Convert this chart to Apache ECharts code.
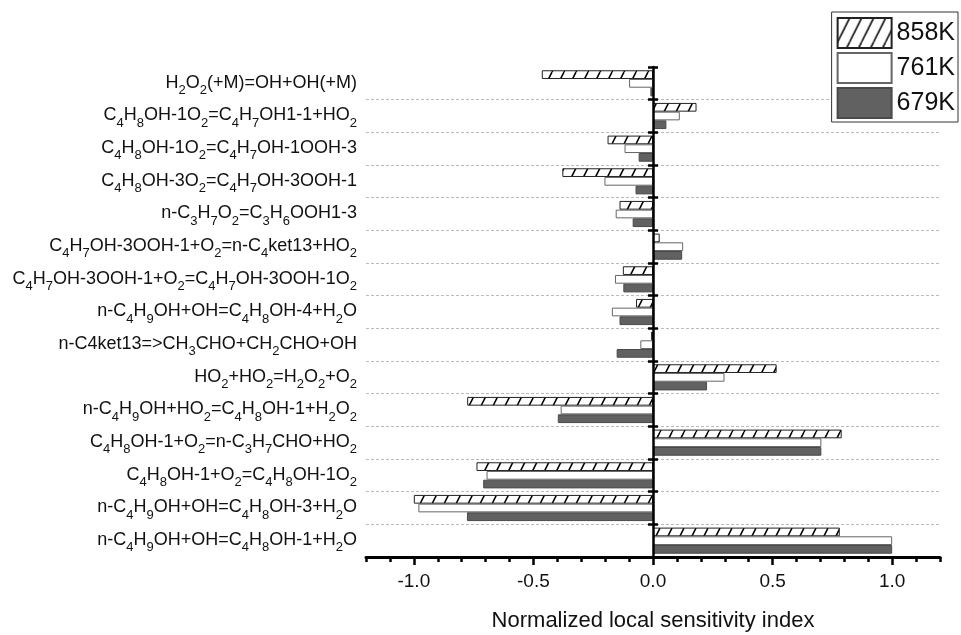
<!DOCTYPE html>
<html>
<head>
<meta charset="utf-8">
<script src="https://cdn.jsdelivr.net/npm/echarts@6/dist/echarts.min.js"></script>
<style>
  html, body { margin: 0; padding: 0; background: #fff; }
  #chart { width: 961px; height: 635px; }
</style>
</head>
<body>
<div id="chart"></div>
<script>
// reactions, top to bottom; "_n" marks a subscript digit
const reactions = [
  "H_2O_2(+M)=OH+OH(+M)",
  "C_4H_8OH-1O_2=C_4H_7OH1-1+HO_2",
  "C_4H_8OH-1O_2=C_4H_7OH-1OOH-3",
  "C_4H_8OH-3O_2=C_4H_7OH-3OOH-1",
  "n-C_3H_7O_2=C_3H_6OOH1-3",
  "C_4H_7OH-3OOH-1+O_2=n-C_4ket13+HO_2",
  "C_4H_7OH-3OOH-1+O_2=C_4H_7OH-3OOH-1O_2",
  "n-C_4H_9OH+OH=C_4H_8OH-4+H_2O",
  "n-C4ket13=>CH_3CHO+CH_2CHO+OH",
  "HO_2+HO_2=H_2O_2+O_2",
  "n-C_4H_9OH+HO_2=C_4H_8OH-1+H_2O_2",
  "C_4H_8OH-1+O_2=n-C_3H_7CHO+HO_2",
  "C_4H_8OH-1+O_2=C_4H_8OH-1O_2",
  "n-C_4H_9OH+OH=C_4H_8OH-3+H_2O",
  "n-C_4H_9OH+OH=C_4H_8OH-1+H_2O"
];
const temps = ["858K", "761K", "679K"];
const k858 = [-0.465, 0.182, -0.19, -0.379, -0.14, 0.028, -0.126, -0.071, -0.008, 0.517, -0.777, 0.789, -0.738, -1.0, 0.781];
const k761 = [-0.10, 0.112, -0.119, -0.203, -0.156, 0.126, -0.159, -0.172, -0.053, 0.299, -0.386, 0.704, -0.696, -0.981, 1.0];
const k679 = [-0.011, 0.056, -0.06, -0.073, -0.085, 0.122, -0.124, -0.14, -0.152, 0.226, -0.398, 0.704, -0.71, -0.778, 1.0];
const majorTicks = [-1.0, -0.5, 0.0, 0.5, 1.0];

const FONT = "'Liberation Sans', Arial, sans-serif";

function hatchPattern() {
  const c = document.createElement("canvas");
  c.width = 12;
  c.height = 24;
  const ctx = c.getContext("2d");
  ctx.fillStyle = "#fff";
  ctx.fillRect(0, 0, 12, 24);
  ctx.strokeStyle = "#000";
  ctx.lineWidth = 1.5;
  for (let k = -1; k <= 1; k++) {
    ctx.beginPath();
    ctx.moveTo(k * 12, 24);
    ctx.lineTo(k * 12 + 12, 0);
    ctx.stroke();
  }
  return c;
}

function toRich(s) {
  return s.split(/(_\d)/).filter(Boolean).map(function (p) {
    return p[0] === "_" ? "{s|" + p.slice(1) + "}" : "{m|" + p + "}";
  }).join("");
}

const tickStyle = { color: "#000", width: 2.5 };

const chart = echarts.init(document.getElementById("chart"));
chart.setOption({
  animation: false,
  grid: { left: 366, right: 21, top: 67, bottom: 78, containLabel: false, outerBoundsMode: "none" },
  legend: {
    data: temps,
    orient: "vertical",
    right: 3,
    top: 12,
    icon: "rect",
    itemWidth: 54,
    itemHeight: 30,
    itemGap: 3,
    padding: [5, 3, 3, 5],
    backgroundColor: "#fff",
    borderColor: "#333",
    borderWidth: 1,
    textStyle: { fontSize: 25, color: "#111", fontFamily: FONT, lineHeight: 30 }
  },
  xAxis: [
    {
      type: "value",
      min: -1.2,
      max: 1.2,
      position: "bottom",
      name: "Normalized local sensitivity index",
      nameLocation: "middle",
      nameGap: 53,
      nameTextStyle: { fontSize: 22, color: "#111", fontFamily: FONT },
      axisLine: { show: true, onZero: false, lineStyle: { color: "#000", width: 3 } },
      axisTick: { show: true, customValues: majorTicks, length: 8, lineStyle: tickStyle },
      axisLabel: {
        customValues: majorTicks,
        formatter: function (v) { return v.toFixed(1); },
        margin: 15,
        fontSize: 19,
        color: "#111",
        fontFamily: FONT
      },
      splitLine: { show: false }
    },
    {
      type: "value",
      min: -1.2,
      max: 1.2,
      interval: 0.1,
      position: "bottom",
      axisLine: { show: false, onZero: false },
      axisTick: { show: true, length: 5, lineStyle: tickStyle },
      axisLabel: { show: false },
      splitLine: { show: false }
    }
  ],
  yAxis: [
    {
      type: "category",
      data: reactions,
      inverse: true,
      position: "left",
      axisLine: { show: false, onZero: false },
      axisTick: { show: false },
      axisLabel: {
        interval: 0,
        margin: 9,
        formatter: toRich,
        rich: {
          m: { fontSize: 18, fontFamily: FONT, color: "#111", lineHeight: 19, verticalAlign: "top" },
          s: { fontSize: 13, fontFamily: FONT, color: "#111", lineHeight: 13, verticalAlign: "top", padding: [10, 0, 0, 0] }
        }
      },
      splitLine: {
        show: true,
        showMinLine: false,
        showMaxLine: false,
        lineStyle: { color: "#bbb", width: 1, type: [3, 2] }
      }
    },
    {
      // axis line at x = 0, ticks on the left side
      type: "category",
      data: reactions,
      inverse: true,
      position: "left",
      z: 5,
      axisLine: { show: true, onZero: true, lineStyle: { color: "#000", width: 2.5 } },
      axisTick: { show: true, interval: 0, length: 5, lineStyle: tickStyle },
      axisLabel: { show: false, interval: 0 },
      splitLine: { show: false }
    },
    {
      // ticks on the right side of the zero line
      type: "category",
      data: reactions,
      inverse: true,
      position: "right",
      z: 5,
      axisLine: { show: false, onZero: true },
      axisTick: { show: true, interval: 0, length: 5, lineStyle: tickStyle },
      axisLabel: { show: false, interval: 0 },
      splitLine: { show: false }
    }
  ],
  series: [
    {
      name: "858K",
      type: "bar",
      xAxisIndex: 0,
      yAxisIndex: 0,
      data: k858,
      barGap: "0%",
      barCategoryGap: "20%",
      emphasis: { disabled: true },
      itemStyle: { color: { image: hatchPattern(), repeat: "repeat" }, borderColor: "#222", borderWidth: 1 }
    },
    {
      name: "761K",
      type: "bar",
      xAxisIndex: 0,
      yAxisIndex: 0,
      data: k761,
      barGap: "0%",
      barCategoryGap: "20%",
      emphasis: { disabled: true },
      itemStyle: { color: "#fff", borderColor: "#666", borderWidth: 1 }
    },
    {
      name: "679K",
      type: "bar",
      xAxisIndex: 0,
      yAxisIndex: 0,
      data: k679,
      barGap: "0%",
      barCategoryGap: "20%",
      emphasis: { disabled: true },
      itemStyle: { color: "#616161", borderColor: "#4a4a4a", borderWidth: 1 }
    }
  ]
});
</script>
</body>
</html>
